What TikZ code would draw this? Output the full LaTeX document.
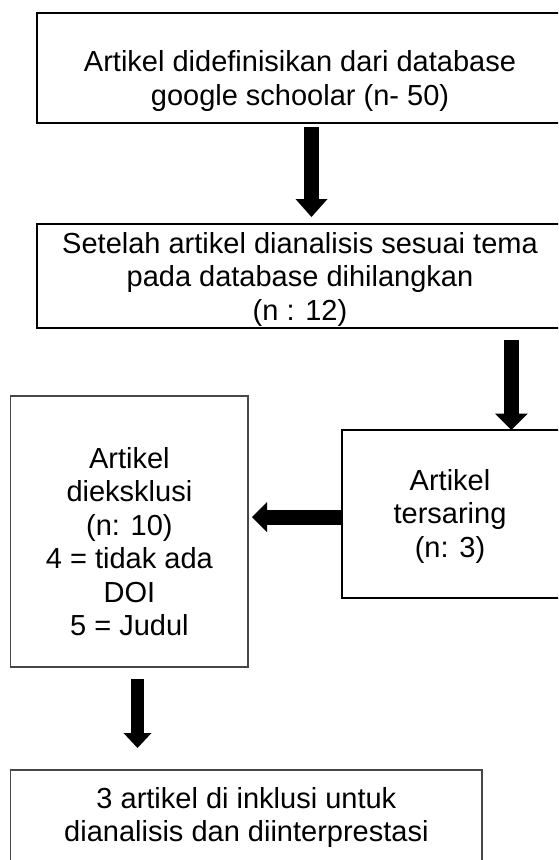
\documentclass[tikz,border=0pt]{standalone}
\usepackage{fontspec}
\setmainfont{Liberation Sans}
\usetikzlibrary{arrows.meta}
\begin{document}
\begin{tikzpicture}[x=1pt,y=-1pt,
  boxA/.style={draw=black,line width=2pt,rectangle,inner sep=0pt,outer sep=0pt},
  boxB/.style={draw=black!72,line width=1.2pt,rectangle,inner sep=0pt,outer sep=0pt},
  txt/.style={align=center,inner sep=0pt,outer sep=0pt,anchor=north,font=\fontsize{29}{33.5}\selectfont},
  bigarrow/.style={line width=15pt,line cap=butt}]
\useasboundingbox (0,0) rectangle (558,860);
\clip (0,0) rectangle (558,860);
% boxes
\node[boxA,minimum width=527.5pt,minimum height=110pt] (b1) at (300.25,68) {};
\node[boxA,minimum width=527.5pt,minimum height=104pt] (b2) at (300.25,276) {};
\node[boxA,minimum width=218pt,minimum height=168pt] (b3) at (451,514) {};
\node[boxB,minimum width=237.3pt,minimum height=271pt] (b4) at (129.35,531.5) {};
\node[boxB,minimum width=471.3pt,minimum height=110pt] (b5) at (246.35,825) {};
% texts
\node[txt,font=\fontsize{29}{34}\selectfont] (t1) at (300,50.5) {Artikel didefinisikan dari database\\google schoolar (n- 50)};
\node[txt] (t2) at (300,232) {Setelah artikel dianalisis sesuai tema\\pada database dihilangkan\\(n : 12)};
\node[txt] (t3) at (450,469) {Artikel\\tersaring\\(n: 3)};
\node[txt] (t4) at (129.4,447) {Artikel\\dieksklusi\\(n: 10)\\4 = tidak ada\\DOI\\5 = Judul};
\node[txt] (t5) at (246.4,787) {3 artikel di inklusi untuk\\dianalisis dan diinterprestasi};
% arrow guide coordinates
\coordinate (c1) at (311.5,0);
\coordinate (c2) at (511.3,0);
\coordinate (c3) at (0,517);
\coordinate (c4) at (137.5,0);
% connectors
\draw[bigarrow,line width=15pt,-{Triangle[width=32pt,length=18pt,line width=0pt]},shorten <=4pt,shorten >=7pt] (b1.south -| c1) -- (b2.north -| c1);
\draw[bigarrow,line width=15.3pt,-{Triangle[width=33pt,length=16.5pt,line width=0pt]},shorten <=12pt] (b2.south -| c2) -- (b3.north -| c2);
\draw[bigarrow,line width=15pt,-{Triangle[width=30pt,length=15pt,line width=0pt]},shorten >=4pt] (b3.west |- c3) -- (b4.east |- c3);
\draw[bigarrow,line width=13pt,-{Triangle[width=28pt,length=15pt,line width=0pt]},shorten <=12pt,shorten >=22pt] (b4.south -| c4) -- (b5.north -| c4);
\end{tikzpicture}
\end{document}
